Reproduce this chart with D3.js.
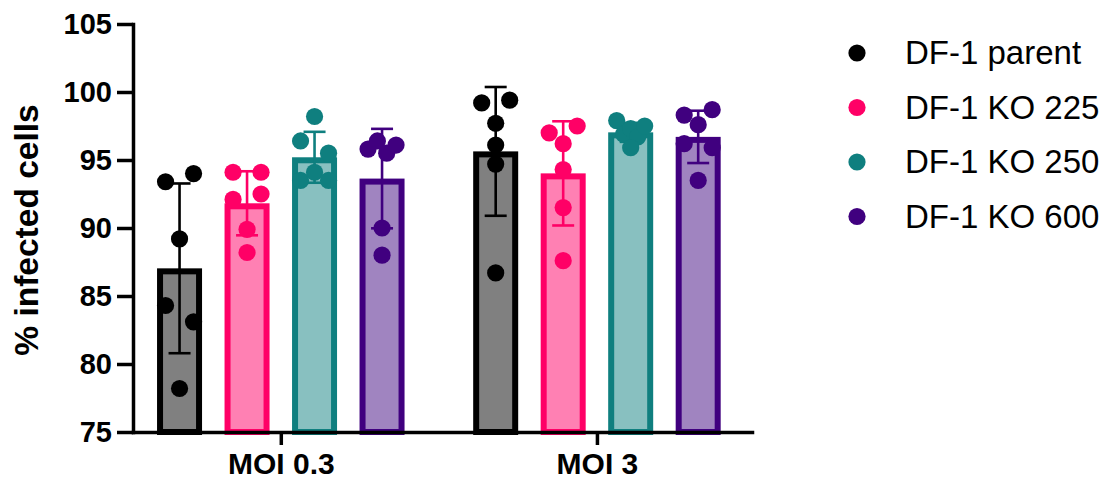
<!DOCTYPE html>
<html>
<head>
<meta charset="utf-8">
<script src="https://cdn.jsdelivr.net/npm/d3@7"></script>
<style>
  html, body { margin: 0; background: #fff; }
  svg { display: block; }
</style>
</head>
<body>
<svg id="chart" width="1105" height="481"></svg>
<script>
// Infection conditions (x categories) and cell lines (series)
const groups = ["MOI 0.3", "MOI 3"];
const seriesNames = ["DF-1 parent", "DF-1 KO 225", "DF-1 KO 250", "DF-1 KO 600"];
const yTicks = [75, 80, 85, 90, 95, 100, 105];

// % infected cells, six replicates per cell line and MOI
const parentMoi03 = [93.4, 94.0, 89.2, 84.3, 83.1, 78.2];
const parentMoi3  = [99.2, 99.4, 97.7, 96.1, 94.7, 86.7];
const ko225Moi03  = [94.1, 94.1, 92.1, 92.5, 89.9, 88.2];
const ko225Moi3   = [97.0, 97.5, 96.2, 94.3, 91.5, 87.6];
const ko250Moi03  = [98.2, 96.4, 95.5, 93.5, 94.1, 93.5];
const ko250Moi3   = [97.9, 96.9, 97.3, 96.7, 97.5, 95.9];
const ko600Moi03  = [95.8, 96.4, 95.5, 96.1, 90.0, 88.0];
const ko600Moi3   = [98.3, 97.6, 98.7, 96.2, 95.9, 93.5];

const strokeColors = ["#000000", "#ff0066", "#0f7f7f", "#40007f"];
const fillColors   = ["#808080", "#ff80b3", "#88c0c0", "#a084c0"];

// replicates[series][group]
const replicates = [
  [parentMoi03, parentMoi3],
  [ko225Moi03, ko225Moi3],
  [ko250Moi03, ko250Moi3],
  [ko600Moi03, ko600Moi3]
];

const svg = d3.select("#chart");
svg.append("rect").attr("width", 1105).attr("height", 481).attr("fill", "#fff");

const plotLeft = 133, plotRight = 752, plotTop = 24, plotBottom = 432;
const FONT = "'Liberation Sans', Arial, Helvetica, sans-serif";

const y = d3.scaleLinear().domain([75, 105]).range([plotBottom, plotTop]);

const x0 = d3.scalePoint()
  .domain(groups)
  .range([plotLeft, plotRight])
  .padding(0.479)
  .align(0.488);

const x1 = d3.scaleBand()
  .domain(seriesNames)
  .range([-135, 135])
  .paddingInner(1 / 3)
  .paddingOuter(1 / 6);

const bw = x1.bandwidth();
const border = 6;
const dotR = 8.6;

// summary per bar
const cells = [];
seriesNames.forEach((s, si) => {
  groups.forEach((g, gi) => {
    const vals = replicates[si][gi];
    cells.push({
      series: s, si, group: g, vals,
      mean: d3.mean(vals),
      sd: d3.deviation(vals),
      cx: x0(g) + x1(s) + bw / 2
    });
  });
});

// Scatter layout: points close in value share a row and spread sideways
function scatterOffsets(vals) {
  const order = d3.range(vals.length).sort((a, b) => vals[b] - vals[a]);
  const rows = [];
  let cur = null;
  order.forEach(i => {
    if (cur && (y(vals[i]) - y(vals[cur[0]])) < 17) cur.push(i);
    else { cur = [i]; rows.push(cur); }
  });
  const off = new Array(vals.length).fill(0);
  const spread = 14;
  rows.forEach(r => {
    const members = r.slice().sort((a, b) => a - b);
    const n = members.length;
    members.forEach((idx, k) => {
      off[idx] = n === 1 ? 0 : -spread + (2 * spread) * k / (n - 1);
    });
  });
  return off;
}

// Bars (border drawn inside the bar outline)
svg.append("g").selectAll("rect")
  .data(cells)
  .join("rect")
  .attr("x", d => d.cx - bw / 2 + border / 2)
  .attr("y", d => y(d.mean) + border / 2)
  .attr("width", bw - border)
  .attr("height", d => y(75) - y(d.mean) - border / 2)
  .attr("fill", d => fillColors[d.si])
  .attr("stroke", d => strokeColors[d.si])
  .attr("stroke-width", border);

// Error bars: mean ± SD
const capHalf = 11;
const eb = svg.append("g").selectAll("g")
  .data(cells)
  .join("g")
  .attr("stroke", d => strokeColors[d.si])
  .attr("stroke-width", 2.6)
  .attr("fill", "none");
eb.append("line")
  .attr("x1", d => d.cx).attr("x2", d => d.cx)
  .attr("y1", d => y(d.mean + d.sd)).attr("y2", d => y(d.mean - d.sd));
eb.append("line")
  .attr("x1", d => d.cx - capHalf).attr("x2", d => d.cx + capHalf)
  .attr("y1", d => y(d.mean + d.sd)).attr("y2", d => y(d.mean + d.sd));
eb.append("line")
  .attr("x1", d => d.cx - capHalf).attr("x2", d => d.cx + capHalf)
  .attr("y1", d => y(d.mean - d.sd)).attr("y2", d => y(d.mean - d.sd));

// Replicate points
const pts = [];
cells.forEach(c => {
  const off = scatterOffsets(c.vals);
  c.vals.forEach((v, i) => pts.push({ v, si: c.si, x: c.cx + off[i] }));
});
svg.append("g").selectAll("circle")
  .data(pts)
  .join("circle")
  .attr("cx", d => d.x)
  .attr("cy", d => y(d.v))
  .attr("r", dotR)
  .attr("fill", d => strokeColors[d.si]);

// Axes
const yAxisG = svg.append("g")
  .attr("transform", `translate(${plotLeft},0)`)
  .call(d3.axisLeft(y).tickValues(yTicks).tickSize(16).tickSizeOuter(0).tickPadding(5));
yAxisG.selectAll("text")
  .attr("font-family", FONT).attr("font-size", 29).attr("font-weight", "bold")
  .attr("fill", "#000");

const xAxisG = svg.append("g")
  .attr("transform", `translate(0,${plotBottom})`)
  .call(d3.axisBottom(x0).tickSize(13).tickSizeOuter(0));
xAxisG.selectAll("text")
  .attr("y", 42).attr("dy", 0)
  .attr("font-family", FONT).attr("font-size", 30).attr("font-weight", "bold")
  .attr("fill", "#000");

[yAxisG, xAxisG].forEach(g => {
  g.select(".domain").attr("stroke", "#000").attr("stroke-width", 3.5).attr("stroke-linecap", "square");
  g.selectAll(".tick line").attr("stroke", "#000").attr("stroke-width", 3.5);
});

// Y axis title
svg.append("text")
  .attr("transform", `translate(38,${(plotTop + plotBottom) / 2 + 2}) rotate(-90)`)
  .attr("text-anchor", "middle")
  .attr("font-family", FONT).attr("font-size", 33.5).attr("font-weight", "bold")
  .attr("fill", "#000")
  .text("% infected cells");

// Legend
const legend = svg.append("g").attr("transform", "translate(857,53)");
const items = legend.selectAll("g")
  .data(seriesNames)
  .join("g")
  .attr("transform", (d, i) => `translate(0,${i * 54.5})`);
items.append("circle").attr("r", dotR).attr("fill", (d, i) => strokeColors[i]);
items.append("text")
  .attr("x", 48).attr("y", 11)
  .attr("font-family", FONT).attr("font-size", 33)
  .attr("fill", "#000")
  .text(d => d);
</script>
</body>
</html>
